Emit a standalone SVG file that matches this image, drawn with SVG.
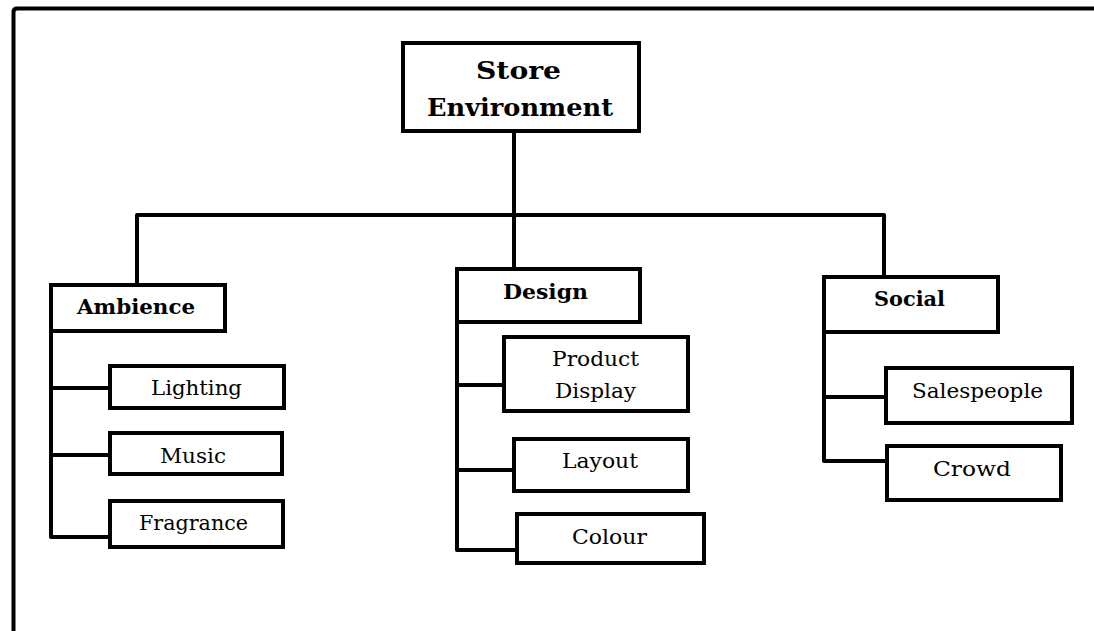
<svg xmlns="http://www.w3.org/2000/svg" width="1094" height="631" viewBox="0 0 1094 631">
<style>
.box{fill:#fff;stroke:#000;stroke-width:4}
.ln{fill:none;stroke:#000;stroke-width:4;stroke-linejoin:round}
.h1{font-family:"DejaVu Serif","Liberation Serif",serif;font-weight:bold;font-size:25px;fill:#000}
.h2{font-family:"DejaVu Serif","Liberation Serif",serif;font-weight:bold;font-size:21px;fill:#000}
.t{font-family:"DejaVu Serif","Liberation Serif",serif;font-size:21px;fill:#000}
</style>
<rect width="1094" height="631" fill="#fff"/>
<path class="ln" d="M13.5,631 V12 Q13.5,8.5 17,8.5 H1094"/>
<g id="connectors">
<path class="ln" d="M514,131 V215 M137,284 V215 H884 V276 M514,215 V268"/>
<path class="ln" d="M51,331 V537 H110 M51,388 H110 M51,455 H110"/>
<path class="ln" d="M457,322 V550 H517 M457,385 H503 M457,470 H513"/>
<path class="ln" d="M824,332 V461 H886 M824,397 H885"/>
</g>
<g id="store-environment"><rect class="box" x="403" y="43" width="236" height="88"/>
<text class="h1" x="476" y="79" textLength="85" lengthAdjust="spacingAndGlyphs">Store</text>
<text class="h1" x="427" y="116" textLength="186" lengthAdjust="spacingAndGlyphs">Environment</text></g>
<g id="ambience"><rect class="box" x="51" y="285" width="174" height="46"/>
<text class="h2" x="77" y="314" textLength="118" lengthAdjust="spacingAndGlyphs">Ambience</text></g>
<g id="lighting"><rect class="box" x="110" y="366" width="174" height="42"/>
<text class="t" x="151" y="395" textLength="91" lengthAdjust="spacingAndGlyphs">Lighting</text></g>
<g id="music"><rect class="box" x="110" y="433" width="172" height="41"/>
<text class="t" x="160" y="463" textLength="66" lengthAdjust="spacingAndGlyphs">Music</text></g>
<g id="fragrance"><rect class="box" x="110" y="501" width="173" height="46"/>
<text class="t" x="139" y="530" textLength="109" lengthAdjust="spacingAndGlyphs">Fragrance</text></g>
<g id="design"><rect class="box" x="457" y="269" width="183" height="53"/>
<text class="h2" x="503" y="299" textLength="85" lengthAdjust="spacingAndGlyphs">Design</text></g>
<g id="product-display"><rect class="box" x="504" y="337" width="184" height="74"/>
<text class="t" x="552" y="366" textLength="87" lengthAdjust="spacingAndGlyphs">Product</text>
<text class="t" x="555" y="398" textLength="81" lengthAdjust="spacingAndGlyphs">Display</text></g>
<g id="layout"><rect class="box" x="514" y="439" width="174" height="52"/>
<text class="t" x="562" y="468" textLength="76" lengthAdjust="spacingAndGlyphs">Layout</text></g>
<g id="colour"><rect class="box" x="517" y="514" width="187" height="49"/>
<text class="t" x="572" y="544" textLength="75" lengthAdjust="spacingAndGlyphs">Colour</text></g>
<g id="social"><rect class="box" x="824" y="277" width="174" height="55"/>
<text class="h2" x="874" y="306" textLength="71" lengthAdjust="spacingAndGlyphs">Social</text></g>
<g id="salespeople"><rect class="box" x="886" y="368" width="186" height="55"/>
<text class="t" x="912" y="398" textLength="131" lengthAdjust="spacingAndGlyphs">Salespeople</text></g>
<g id="crowd"><rect class="box" x="887" y="446" width="174" height="54"/>
<text class="t" x="933" y="476" textLength="78" lengthAdjust="spacingAndGlyphs">Crowd</text></g>
</svg>
